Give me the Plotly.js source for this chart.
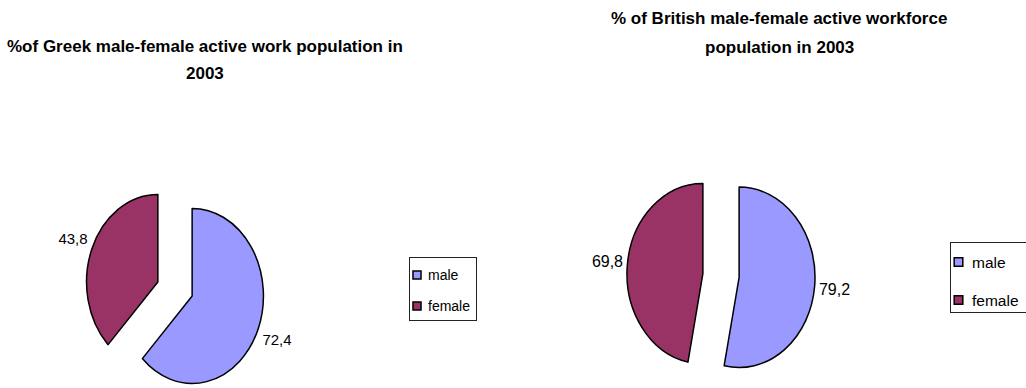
<!DOCTYPE html>
<html>
<head>
<meta charset="utf-8">
<script src="https://cdn.plot.ly/plotly-3.0.1.min.js"></script>
<style>
  html, body { margin: 0; padding: 0; background: #fff; overflow: hidden; width: 1026px; height: 388px; }
  .panel { position: absolute; top: 0; height: 388px; }
  #greek { left: 0; width: 513px; }
  #british { left: 513px; width: 540px; }
</style>
</head>
<body>
<div id="greek" class="panel"></div>
<div id="british" class="panel"></div>
<script>
// Active work population by sex, 2003 (%)
const sexes = ['male', 'female'];
const greekValues = [72.4, 43.8];
const britishValues = [79.2, 69.8];
const greekTitle = ['%of Greek male-female active work population in', '2003'];
const britishTitle = ['% of British male-female active workforce', 'population in 2003'];
const sliceColors = ['#9999FF', '#993366'];

const H = 388;
const FONT = 'Liberation Sans, Arial, Helvetica, sans-serif';

// Panel settings (pixels inside each panel)
const panels = [
  {
    id: 'greek', width: 513, values: greekValues, title: greekTitle,
    titleX: 205, titleY: [46, 73], titleSize: 17,
    pie: { cx: 175, cy: 289, rx: 71.3, ry: 87.5, pullPx: 18.5 }, labelSize: 15,
    legend: { left: 409, top: 257, w: 68, h: 64, itemY: [18, 49], symX: 8, textX: 19, symScale: 0.67, size: 14 }
  },
  {
    id: 'british', width: 540, values: britishValues, title: britishTitle,
    titleX: 266, titleY: [18, 47], titleSize: 17,
    pie: { cx: 208, cy: 275.5, rx: 75.9, ry: 90.2, pullPx: 18.2 }, labelSize: 16,
    legend: { left: 437, top: 242, w: 100, h: 71, itemY: [20, 58], symX: 8.5, textX: 22, symScale: 0.72, size: 15.5 }
  }
];

// outside labels follow the elliptical rim: lift them along the slice mid-direction
const LABEL_LIFT = 0.58;

function domainOf(g, W) {
  const pull = g.pullPx / g.rx;
  const half = g.rx * (1 + pull);
  return {
    x: [(g.cx - half) / W, (g.cx + half) / W],
    y: [1 - (g.cy + half) / H, 1 - (g.cy - half) / H]
  };
}

function titleLine(text, x, y, W, size) {
  return {
    text: text, xref: 'paper', yref: 'paper',
    x: x / W, y: 1 - y / H, xanchor: 'center', yanchor: 'middle',
    showarrow: false,
    font: { family: FONT, size: size, color: '#000', weight: 'bold' }
  };
}

function ellipsePie(gd, g) {
  const sy = g.ry / g.rx;
  const cd = gd.calcdata[0];
  gd.querySelectorAll('.pielayer .trace g.slice').forEach((sg, j) => {
    const path = sg.querySelector('path.surface');
    const m = /^M\s*([-\d.e]+)[ ,]\s*([-\d.e]+)/.exec(path.getAttribute('d') || '');
    if (m) {
      const px = +m[1], py = +m[2];
      path.setAttribute('transform',
        `translate(${px},${py}) scale(1,${sy}) translate(${-px},${-py})`);
      path.style.vectorEffect = 'non-scaling-stroke';
    }
    const txt = sg.querySelector('g.slicetext');
    const pt = cd && cd[j];
    if (txt && pt && pt.pxmid) {
      txt.setAttribute('transform', `translate(0,${LABEL_LIFT * pt.pxmid[1]})`);
    }
  });
}

function reshapeLegend(gd, s) {
  const leg = gd.querySelector('g.legend');
  if (!leg) return;
  const bw = 1;
  leg.querySelectorAll('g.traces').forEach((it, k) => {
    const m = /translate\(\s*([-\d.e]+)/.exec(it.getAttribute('transform') || '');
    const tx = m ? +m[1] : 0;
    if (s.itemY[k] !== undefined) it.setAttribute('transform', `translate(${tx},${s.itemY[k]})`);
    const sym = it.querySelector('path.legendpie');
    if (sym) {
      sym.setAttribute('transform', `translate(${s.symX - tx},0) scale(${s.symScale})`);
      sym.style.vectorEffect = 'non-scaling-stroke';
    }
    const txt = it.querySelector('text.legendtext');
    if (txt) txt.setAttribute('x', s.textX - tx);
  });
  const bg = leg.querySelector('rect.bg');
  if (bg) { bg.setAttribute('width', s.w - bw); bg.setAttribute('height', s.h - bw); }
  const sb = leg.querySelector('g.scrollbox');
  const cp = sb && sb.getAttribute('clip-path');
  const idm = cp && /#([^'")]+)/.exec(cp);
  const clip = idm && document.getElementById(idm[1]);
  const cr = clip && clip.querySelector('rect');
  if (cr) { cr.setAttribute('width', s.w); cr.setAttribute('height', s.h); }
}

panels.forEach(p => {
  const W = p.width;
  const trace = {
    type: 'pie',
    labels: sexes,
    values: p.values,
    sort: false,
    direction: 'clockwise',
    rotation: 0,
    marker: { colors: sliceColors, line: { color: '#000', width: 1.5 } },
    pull: p.pie.pullPx / p.pie.rx,
    textinfo: 'value',
    textposition: 'outside',
    outsidetextfont: { family: FONT, size: p.labelSize, color: '#000' },
    domain: domainOf(p.pie, W),
    hoverinfo: 'label+value+percent'
  };
  const layout = {
    width: W, height: H,
    margin: { l: 0, r: 0, t: 0, b: 0 },
    paper_bgcolor: '#fff',
    showlegend: true,
    separators: ',.',
    legend: {
      x: p.legend.left / W, y: 1 - p.legend.top / H, xanchor: 'left', yanchor: 'top',
      bgcolor: '#fff', bordercolor: '#222', borderwidth: 1, traceorder: 'normal',
      font: { family: FONT, size: p.legend.size, color: '#000' }
    },
    annotations: [
      titleLine(p.title[0], p.titleX, p.titleY[0], W, p.titleSize),
      titleLine(p.title[1], p.titleX, p.titleY[1], W, p.titleSize)
    ]
  };
  const gd = document.getElementById(p.id);
  Plotly.newPlot(gd, [trace], layout, { staticPlot: true, displayModeBar: false }).then(() => {
    ellipsePie(gd, p.pie);
    reshapeLegend(gd, p.legend);
  });
});
</script>
</body>
</html>
